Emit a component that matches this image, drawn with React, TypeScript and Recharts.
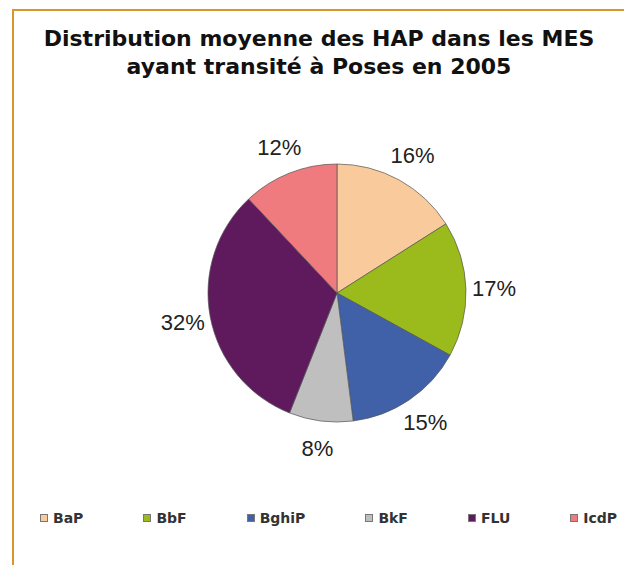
import React from 'react';
import { PieChart, Pie, Cell } from 'recharts';

const categories = ['BaP', 'BbF', 'BghiP', 'BkF', 'FLU', 'IcdP'];
const shares = [16, 17, 15, 8, 32, 12];
const colors = ['#f9cb9c', '#9bbb1c', '#4060a8', '#bfbfbf', '#5f1a5e', '#ef7b7f'];

const data = categories.map((name, i) => ({ name, value: shares[i] }));

const RAD = Math.PI / 180;

const renderLabel = (props: any) => {
    const { cx, cy, midAngle, outerRadius, value } = props;
    const r = outerRadius + 28;
    const x = cx + r * Math.cos(-midAngle * RAD);
    const y = cy + r * Math.sin(-midAngle * RAD);
    return (
        <text
            x={x}
            y={y}
            textAnchor='middle'
            dominantBaseline='central'
            fill='#222'
            fontSize={22}
            fontFamily='"Liberation Sans", Arial, sans-serif'
        >
            {value}%
        </text>
    );
};

// legend drawn as plain html under the pie
const LegendRow = () => (
    <div style={{ position: 'absolute', top: 510, left: 40, display: 'flex' }}>
        {categories.map((name, i) => (
            <div
                key={name}
                style={{ display: 'flex', alignItems: 'center', marginRight: 60 }}
            >
                <span
                    style={{
                        width: 6,
                        height: 6,
                        background: colors[i],
                        border: '1px solid #777',
                        marginRight: 5,
                    }}
                />
                <span
                    style={{
                        fontFamily: '"DejaVu Sans", Verdana, sans-serif',
                        fontWeight: 'bold',
                        fontSize: 14,
                        color: '#333',
                    }}
                >
                    {name}
                </span>
            </div>
        ))}
    </div>
);

const App = () => {
    return (
        <div style={{ position: 'absolute', left: 0, top: 0, width: 624, height: 565, background: '#fff' }}>
            <div
                style={{
                    position: 'absolute',
                    left: 12,
                    top: 9,
                    right: 0,
                    bottom: 0,
                    borderLeft: '2px solid #d4982e',
                    borderTop: '2px solid #d4982e',
                }}
            />
            <div
                style={{
                    position: 'absolute',
                    left: 14,
                    width: 610,
                    top: 25,
                    textAlign: 'center',
                    fontFamily: '"DejaVu Sans", Verdana, sans-serif',
                    fontWeight: 'bold',
                    fontSize: 22,
                    lineHeight: '28px',
                    color: '#111',
                }}
            >
                Distribution moyenne des HAP dans les MES
                <br />
                ayant transité à Poses en 2005
            </div>
            <PieChart
                width={624}
                height={565}
                margin={{ top: 0, right: 0, bottom: 0, left: 0 }}
                style={{ position: 'absolute', left: 0, top: 0 }}
            >
                <Pie
                    data={data}
                    dataKey='value'
                    nameKey='name'
                    cx={337}
                    cy={293}
                    outerRadius={129}
                    startAngle={90}
                    endAngle={-270}
                    stroke='#555'
                    strokeWidth={0.7}
                    label={renderLabel}
                    labelLine={false}
                    isAnimationActive={false}
                >
                    {data.map((d, i) => (
                        <Cell key={d.name} fill={colors[i]} />
                    ))}
                </Pie>
            </PieChart>
            <LegendRow />
        </div>
    );
};

export default App;
